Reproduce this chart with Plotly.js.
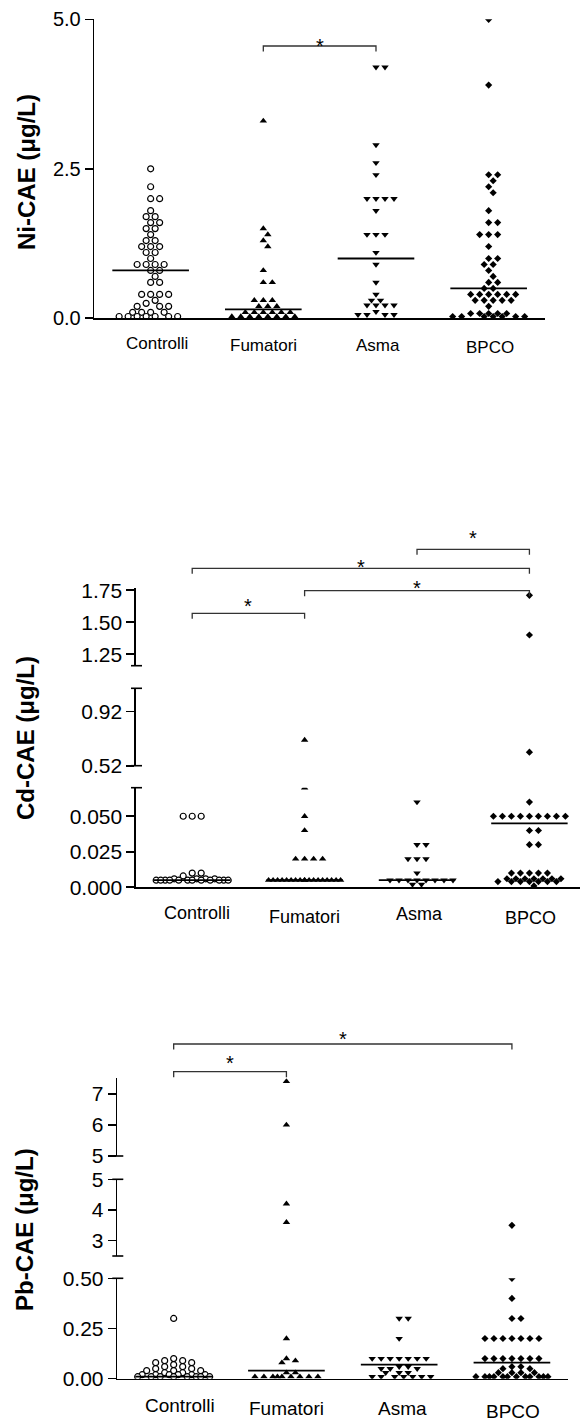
<!DOCTYPE html>
<html>
<head>
<meta charset="utf-8">
<script src="https://cdn.plot.ly/plotly-3.0.1.min.js"></script>
<style>html,body{margin:0;padding:0;background:#fff}#chart{width:582px;height:1421px}</style>
</head>
<body>
<div id="chart"></div>
<script>
// ---------------- DATA ----------------
const categories = ['Controlli', 'Fumatori', 'Asma', 'BPCO'];

// Ni-CAE (µg/L)
const niControlli = [2.5, 2.2, 2.0, 2.0, 1.8, 1.7, 1.7, 1.6, 1.6, 1.5, 1.5, 1.4, 1.3, 1.3, 1.2, 1.2, 1.2, 1.1, 1.1, 1.0,
  0.9, 0.9, 0.9, 0.9, 0.8, 0.8, 0.7, 0.6, 0.6, 0.4, 0.4, 0.4, 0.4, 0.3, 0.25, 0.2, 0.2, 0.2,
  0.1, 0.1, 0.1, 0.1, 0.03, 0.03, 0.03, 0.03, 0.03, 0.03, 0.03];
const niFumatori = [3.3, 1.5, 1.4, 1.3, 1.2, 0.8, 0.6, 0.6, 0.3, 0.3, 0.3, 0.2, 0.2, 0.2,
  0.1, 0.1, 0.1, 0.1, 0.1, 0.1, 0.03, 0.03, 0.03, 0.03, 0.03, 0.03, 0.03, 0.03];
const niAsma = [4.2, 4.2, 2.9, 2.6, 2.4, 2.0, 2.0, 2.0, 2.0, 1.8, 1.4, 1.4, 1.4, 1.1, 0.9, 0.6, 0.4,
  0.3, 0.3, 0.22, 0.22, 0.22, 0.22, 0.11, 0.06, 0.06, 0.06, 0.06];
const niBPCO = [5.0, 3.9, 2.4, 2.4, 2.3, 2.2, 2.1, 1.8, 1.6, 1.6, 1.4, 1.4, 1.4, 1.2, 1.0, 1.0, 0.9, 0.9,
  0.8, 0.7, 0.6, 0.6, 0.5, 0.5, 0.4, 0.4, 0.4, 0.4, 0.4, 0.4, 0.3, 0.3, 0.3, 0.3, 0.3, 0.2,
  0.08, 0.08, 0.08, 0.08, 0.08, 0.03, 0.03, 0.03, 0.03, 0.03, 0.03, 0.03];
const niMedian = [0.8, 0.15, 1.0, 0.5];
const niTickVals = [0, 2.5, 5];
const niTickText = ['0.0', '2.5', '5.0'];
const niComparisons = [[1, 2]];

// Cd-CAE (µg/L)
const cdControlli = [0.05, 0.05, 0.05, 0.01, 0.01, 0.008, 0.006, 0.006, 0.006, 0.006,
  0.005, 0.005, 0.005, 0.005, 0.005, 0.005, 0.005, 0.005, 0.005, 0.005, 0.005, 0.005];
const cdFumatori = [0.71, 0.07, 0.05, 0.04, 0.02, 0.02, 0.02, 0.02,
  0.005, 0.005, 0.005, 0.005, 0.005, 0.005, 0.005, 0.005, 0.005, 0.005, 0.005, 0.005, 0.005, 0.005,
  0.005, 0.005, 0.005, 0.005];
const cdAsma = [0.06, 0.03, 0.03, 0.02, 0.02, 0.02, 0.01,
  0.005, 0.005, 0.005, 0.005, 0.005, 0.005, 0.005, 0.005, 0.002, 0.002];
const cdBPCO = [1.71, 1.40, 0.62, 0.06, 0.05, 0.05, 0.05, 0.05, 0.05, 0.05, 0.05, 0.05, 0.05,
  0.04, 0.04, 0.03, 0.03, 0.01, 0.01, 0.01, 0.01, 0.01,
  0.006, 0.006, 0.006, 0.006, 0.006, 0.006, 0.006, 0.004, 0.004, 0.004, 0.004, 0.004, 0.004, 0.004, 0.001];
const cdMedian = [0.005, 0.005, 0.005, 0.045];
const cdTickValsLow = [0, 0.025, 0.05];
const cdTickTextLow = ['0.000', '0.025', '0.050'];
const cdTickValsMid = [0.52, 0.92];
const cdTickTextMid = ['0.52', '0.92'];
const cdTickValsTop = [1.25, 1.5, 1.75];
const cdTickTextTop = ['1.25', '1.50', '1.75'];
const cdComparisons = [[0, 1], [1, 3], [0, 3], [2, 3]];

// Pb-CAE (µg/L)
const pbControlli = [0.30, 0.10, 0.09, 0.09, 0.08, 0.08, 0.07, 0.06, 0.06, 0.05, 0.05, 0.04, 0.04, 0.04,
  0.03, 0.03, 0.02, 0.02, 0.02, 0.02, 0.02, 0.02, 0.01, 0.01, 0.01, 0.01, 0.01, 0.01, 0.01, 0.01];
const pbFumatori = [7.4, 6.0, 4.2, 3.6, 0.2, 0.1, 0.09, 0.08, 0.03, 0.03,
  0.01, 0.01, 0.01, 0.01, 0.01, 0.01, 0.01, 0.01, 0.01];
const pbAsma = [0.3, 0.3, 0.2, 0.1, 0.1, 0.1, 0.1, 0.1, 0.1, 0.1, 0.06, 0.06, 0.05, 0.05, 0.05,
  0.03, 0.03, 0.03, 0.01, 0.01, 0.01, 0.01, 0.01, 0.01, 0.01];
const pbBPCO = [3.5, 0.5, 0.4, 0.3, 0.3, 0.2, 0.2, 0.2, 0.2, 0.2, 0.2, 0.2,
  0.1, 0.1, 0.1, 0.1, 0.1, 0.1, 0.1, 0.06, 0.06, 0.05, 0.05, 0.03, 0.03, 0.03, 0.03,
  0.01, 0.01, 0.01, 0.01, 0.01, 0.01, 0.01, 0.01, 0.01, 0.01, 0.01, 0.01];
const pbMedian = [0.01, 0.04, 0.07, 0.08];
const pbTickValsLow = [0, 0.25, 0.5];
const pbTickTextLow = ['0.00', '0.25', '0.50'];
const pbTickValsMid = [3, 4, 5];
const pbTickTextMid = ['3', '4', '5'];
const pbTickValsTop = [5, 6, 7];
const pbTickTextTop = ['5', '6', '7'];
const pbComparisons = [[0, 3], [0, 1]];

// ---------------- LAYOUT / STYLE ----------------
const W = 582, H = 1421;
const FONT = 'Liberation Sans, Arial, Helvetica, sans-serif';
const PX = v => v / W;
const PY = v => 1 - v / H;

const markerStyles = [
  { symbol: 'circle', size: 6, color: '#ffffff', line: { color: '#000', width: 1.2 } },
  { symbol: 'triangle-up', size: 6.5, color: '#000', line: { width: 0 } },
  { symbol: 'triangle-down', size: 6.5, color: '#000', line: { width: 0 } },
  { symbol: 'diamond', size: 5.5, color: '#000', line: { width: 0 } }
];

const panels = [
  {
    title: 'Ni-CAE (μg/L)', titleAt: [26, 172],
    xDom: [94.3, 545], xRange: [-0.5, 3.5],
    segs: [{ dom: [318.3, 19.3], range: [0, 5], tv: niTickVals, tt: niTickText }],
    groups: [niControlli, niFumatori, niAsma, niBPCO], medians: niMedian,
    comps: niComparisons, brackets: [{ y: 46, star: 40.7 }],
    labelY: [344, 346, 345, 347], labelDX: [6, 0, 2, 1], labelSize: 17, tickSize: 20
  },
  {
    title: 'Cd-CAE (μg/L)', titleAt: [26, 738],
    xDom: [136, 580], xRange: [-0.5, 3.45],
    segs: [
      { dom: [887.3, 787.7], range: [0, 0.0701], tv: cdTickValsLow, tt: cdTickTextLow },
      { dom: [765.7, 688.3], range: [0.52, 1.093], tv: cdTickValsMid, tt: cdTickTextMid },
      { dom: [665.7, 588.3], range: [1.16, 1.765], tv: cdTickValsTop, tt: cdTickTextTop }
    ],
    groups: [cdControlli, cdFumatori, cdAsma, cdBPCO], medians: cdMedian,
    comps: cdComparisons,
    brackets: [{ y: 613.3, star: 601 }, { y: 590.7, star: 582.7 }, { y: 568.3, star: 561.7 }, { y: 549.3, star: 533.3 }],
    labelY: [913, 917, 914, 918], labelDX: [5, 0, 2, 1], labelSize: 18, tickSize: 21
  },
  {
    title: 'Pb-CAE (μg/L)', titleAt: [24, 1230],
    xDom: [117.3, 568.3], xRange: [-0.5, 3.5],
    segs: [
      { dom: [1378.7, 1278.3], range: [0, 0.5], tv: pbTickValsLow, tt: pbTickTextLow },
      { dom: [1256, 1179.3], range: [2.5, 5], tv: pbTickValsMid, tt: pbTickTextMid },
      { dom: [1156, 1078.3], range: [5, 7.5], tv: pbTickValsTop, tt: pbTickTextTop }
    ],
    groups: [pbControlli, pbFumatori, pbAsma, pbBPCO], medians: pbMedian,
    comps: pbComparisons, brackets: [{ y: 1044, star: 1034 }, { y: 1071.7, star: 1058.3 }],
    labelY: [1405, 1408, 1408, 1411.5], labelDX: [6, 0, 3, 1], labelSize: 19, tickSize: 21
  }
];

// value -> pixel y (or null if in no segment)
function valToPx(v, segs) {
  for (const s of segs) {
    const lo = s.range[0], hi = s.range[1];
    if (v >= lo - 1e-9 && v <= hi + 1e-9) {
      return s.dom[0] - (v - lo) / (hi - lo) * (s.dom[0] - s.dom[1]);
    }
  }
  return null;
}

// beeswarm offsets (pixels) computed from values
const STEP = 4.5, MIN_D = 6, MAX_H = 36;
function swarm(vals, segs) {
  const pts = vals.map((v, i) => ({ v, i, y: valToPx(v, segs), off: 0 }));
  const order = pts.filter(p => p.y !== null).sort((a, b) => a.y - b.y || a.i - b.i);
  const placed = [];
  const cands = [0];
  for (let k = 1; k * STEP <= MAX_H + 1e-6; k++) { cands.push(k * STEP, -k * STEP); }
  for (const p of order) {
    let chosen = null, bestOff = 0, bestScore = -1;
    for (const off of cands) {
      let dmin = Infinity;
      for (const q of placed) {
        const dy = p.y - q.y;
        if (Math.abs(dy) >= MIN_D) continue;
        const d = Math.hypot(off - q.off, dy);
        if (d < dmin) dmin = d;
      }
      if (dmin >= MIN_D) { chosen = off; break; }
      if (dmin > bestScore + 1e-9) { bestScore = dmin; bestOff = off; }
    }
    p.off = chosen !== null ? chosen : bestOff;
    placed.push(p);
  }
  return pts.map(p => p.off);
}

const traces = [];
const layout = {
  width: W, height: H, margin: { l: 0, r: 0, t: 0, b: 0 },
  paper_bgcolor: '#fff', plot_bgcolor: 'rgba(0,0,0,0)',
  showlegend: false, font: { family: FONT, color: '#000' },
  shapes: [], annotations: []
};

let yCount = 0;
panels.forEach((P, pi) => {
  const xId = pi === 0 ? 'x' : 'x' + (pi + 1);
  const xKey = pi === 0 ? 'xaxis' : 'xaxis' + (pi + 1);
  const pxPerCat = (P.xDom[1] - P.xDom[0]) / (P.xRange[1] - P.xRange[0]);
  const catPx = c => P.xDom[0] + (c - P.xRange[0]) * pxPerCat;
  const axisX = P.xDom[0];

  const yIds = P.segs.map(() => { yCount++; return yCount === 1 ? 'y' : 'y' + yCount; });

  layout[xKey] = {
    domain: [PX(P.xDom[0]), PX(P.xDom[1])], range: P.xRange, anchor: yIds[0],
    showline: true, linecolor: '#000', linewidth: 1.6, showgrid: false, zeroline: false,
    showticklabels: false, ticks: '', fixedrange: true
  };

  P.segs.forEach((s, si) => {
    const key = 'yaxis' + (yIds[si] === 'y' ? '' : yIds[si].slice(1));
    layout[key] = {
      domain: [PY(s.dom[0]), PY(s.dom[1])], range: s.range, anchor: xId,
      showline: true, linecolor: '#000', linewidth: 1.6, showgrid: false, zeroline: false,
      ticks: 'outside', ticklen: 8, tickwidth: 1.6, tickcolor: '#000',
      tickmode: 'array', tickvals: s.tv, ticktext: s.tt,
      tickfont: { family: FONT, size: P.tickSize, color: '#000' }, fixedrange: true
    };
    // break caps at internal segment ends
    if (P.segs.length > 1) {
      const ends = [];
      if (si > 0) ends.push(s.dom[0]);
      if (si < P.segs.length - 1) ends.push(s.dom[1]);
      ends.forEach(yy => layout.shapes.push({
        type: 'line', xref: 'paper', yref: 'paper',
        x0: PX(axisX - 5), x1: PX(axisX + 6), y0: PY(yy), y1: PY(yy),
        line: { color: '#000', width: 1.6 }
      }));
    }
  });

  // points
  P.groups.forEach((vals, gi) => {
    const offs = swarm(vals, P.segs);
    const xs = offs.map(o => gi + o / pxPerCat);
    yIds.forEach(yId => {
      traces.push({
        type: 'scatter', mode: 'markers', x: xs, y: vals, xaxis: xId, yaxis: yId,
        marker: markerStyles[gi], cliponaxis: true, hoverinfo: 'skip', name: categories[gi]
      });
    });
    // median line
    const m = P.medians[gi];
    const segIdx = P.segs.findIndex(s => m >= s.range[0] && m <= s.range[1]);
    if (segIdx >= 0) {
      traces.push({
        type: 'scatter', mode: 'lines', x: [gi - 0.34, gi + 0.34], y: [m, m],
        xaxis: xId, yaxis: yIds[segIdx], line: { color: '#000', width: 1.8 }, hoverinfo: 'skip'
      });
    }
    // category label
    layout.annotations.push({
      xref: xId, yref: 'paper', x: gi, y: PY(P.labelY[gi]), xshift: P.labelDX[gi],
      xanchor: 'center', yanchor: 'middle', showarrow: false,
      text: categories[gi], font: { family: FONT, size: P.labelSize, color: '#000' }
    });
  });

  // significance brackets
  P.comps.forEach((c, bi) => {
    const b = P.brackets[bi];
    const x1 = catPx(c[0]), x2 = catPx(c[1]);
    const tip = 5.5;
    layout.shapes.push({
      type: 'path', xref: 'paper', yref: 'paper',
      path: `M ${PX(x1)},${PY(b.y + tip)} L ${PX(x1)},${PY(b.y)} L ${PX(x2)},${PY(b.y)} L ${PX(x2)},${PY(b.y + tip)}`,
      line: { color: '#333', width: 1.3 }
    });
    layout.annotations.push({
      xref: 'paper', yref: 'paper', x: PX((x1 + x2) / 2), y: PY(b.star + 5),
      xanchor: 'center', yanchor: 'middle', showarrow: false,
      text: '*', font: { family: FONT, size: 20, color: '#000' }
    });
  });

  // y title
  layout.annotations.push({
    xref: 'paper', yref: 'paper', x: PX(P.titleAt[0]), y: PY(P.titleAt[1]),
    xanchor: 'center', yanchor: 'middle', showarrow: false, textangle: -90,
    text: '<b>' + P.title + '</b>', font: { family: FONT, size: 24, color: '#000' }
  });
});

Plotly.newPlot('chart', traces, layout, { staticPlot: true, displayModeBar: false });
</script>
</body>
</html>
